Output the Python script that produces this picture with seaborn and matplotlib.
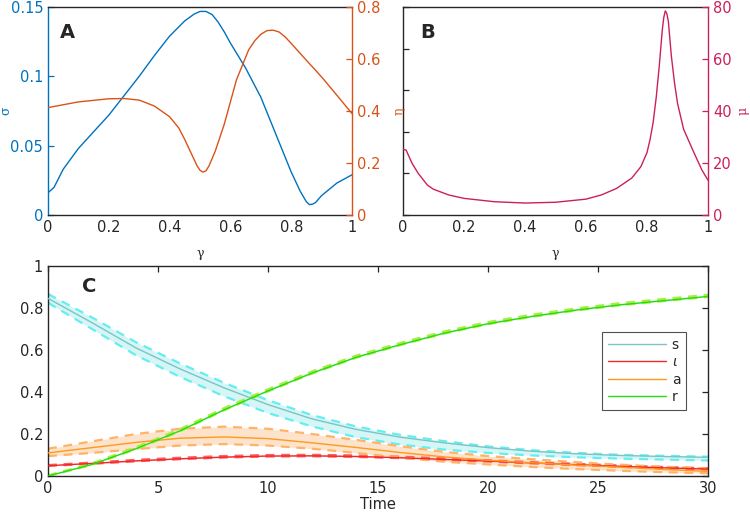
import numpy as np
import pandas as pd
import matplotlib
matplotlib.use("Agg")
import matplotlib.pyplot as plt
import seaborn as sns

# ---------------------------
# DATA
# ---------------------------
gamma_sigma = [0.0, 0.02, 0.05, 0.1, 0.15, 0.2, 0.25, 0.3, 0.35, 0.4, 0.45, 0.48, 0.5, 0.52,
               0.54, 0.56, 0.58, 0.6, 0.65, 0.7, 0.75, 0.8, 0.83, 0.85, 0.86, 0.87, 0.88,
               0.9, 0.95, 1.0]
sigma = [0.016, 0.02, 0.033, 0.048, 0.06, 0.072, 0.086, 0.100, 0.115, 0.129, 0.140, 0.1448,
         0.1468, 0.1468, 0.1445, 0.139, 0.132, 0.124, 0.106, 0.085, 0.058, 0.031, 0.017,
         0.0095, 0.0075, 0.0078, 0.009, 0.014, 0.023, 0.029]

gamma_eta = [0.0, 0.1, 0.2, 0.25, 0.3, 0.35, 0.4, 0.43, 0.45, 0.47, 0.49, 0.5, 0.51, 0.52,
             0.53, 0.55, 0.58, 0.62, 0.66, 0.68, 0.7, 0.72, 0.74, 0.76, 0.78, 0.8, 0.85,
             0.9, 0.95, 1.0]
eta = [0.413, 0.435, 0.447, 0.448, 0.442, 0.419, 0.378, 0.335, 0.29, 0.24, 0.19, 0.172,
       0.165, 0.17, 0.19, 0.245, 0.35, 0.52, 0.635, 0.67, 0.695, 0.709, 0.711, 0.704,
       0.685, 0.66, 0.595, 0.531, 0.461, 0.39]

gamma_mu = [0.0, 0.01, 0.03, 0.05, 0.08, 0.1, 0.15, 0.2, 0.3, 0.4, 0.5, 0.6, 0.65, 0.7,
            0.75, 0.78, 0.8, 0.81, 0.82, 0.83, 0.84, 0.85, 0.855, 0.86, 0.865, 0.87, 0.88,
            0.89, 0.9, 0.92, 0.95, 0.98, 1.0]
mu = [25.3, 25.0, 19.8, 16.0, 11.5, 9.9, 7.7, 6.4, 5.1, 4.6, 4.9, 6.1, 7.7, 10.2,
      14.2, 18.6, 24.0, 29.0, 35.5, 45.0, 57.0, 71.0, 76.0, 78.5, 77.5, 74.5, 61.0,
      51.0, 43.0, 33.0, 25.0, 17.3, 13.4]

time = [0, 2, 4, 6, 8, 10, 12, 14, 16, 18, 20, 22, 24, 26, 28, 30]
s_mid = [0.846, 0.73, 0.61, 0.51, 0.42, 0.34, 0.272, 0.222, 0.185, 0.158, 0.135, 0.118, 0.106, 0.098, 0.093, 0.089]
s_hi = [0.867, 0.755, 0.637, 0.536, 0.444, 0.361, 0.29, 0.236, 0.196, 0.166, 0.141, 0.123, 0.110, 0.101, 0.096, 0.092]
s_lo = [0.825, 0.70, 0.575, 0.472, 0.38, 0.30, 0.236, 0.185, 0.150, 0.126, 0.110, 0.098, 0.089, 0.083, 0.078, 0.074]

i_mid = [0.049, 0.06, 0.072, 0.082, 0.09, 0.095, 0.096, 0.093, 0.087, 0.079, 0.071, 0.062, 0.054, 0.046, 0.039, 0.033]
i_hi = [0.052, 0.064, 0.077, 0.087, 0.095, 0.100, 0.101, 0.098, 0.092, 0.084, 0.075, 0.066, 0.058, 0.050, 0.043, 0.037]
i_lo = [0.048, 0.058, 0.070, 0.080, 0.088, 0.093, 0.094, 0.091, 0.085, 0.077, 0.069, 0.060, 0.052, 0.044, 0.037, 0.031]

a_mid = [0.11, 0.135, 0.16, 0.18, 0.186, 0.178, 0.158, 0.136, 0.112, 0.091, 0.075, 0.063, 0.052, 0.042, 0.031, 0.022]
a_hi = [0.13, 0.165, 0.2, 0.225, 0.235, 0.225, 0.2, 0.172, 0.142, 0.115, 0.095, 0.08, 0.066, 0.054, 0.044, 0.036]
a_lo = [0.095, 0.11, 0.128, 0.145, 0.152, 0.145, 0.13, 0.11, 0.088, 0.068, 0.055, 0.043, 0.033, 0.025, 0.018, 0.013]

r_mid = [0.0, 0.055, 0.13, 0.215, 0.315, 0.405, 0.49, 0.565, 0.625, 0.68, 0.725, 0.76, 0.79, 0.815, 0.835, 0.855]
r_hi = [0.003, 0.06, 0.137, 0.223, 0.323, 0.413, 0.498, 0.573, 0.633, 0.688, 0.733, 0.768, 0.798, 0.823, 0.843, 0.863]
r_lo = [0.0, 0.053, 0.128, 0.213, 0.313, 0.403, 0.488, 0.563, 0.623, 0.678, 0.723, 0.758, 0.788, 0.813, 0.833, 0.853]

# ---------------------------
# STYLE
# ---------------------------
sns.set_theme(style="white")
plt.rcParams["font.family"] = ["DejaVu Sans"]
plt.rcParams["axes.linewidth"] = 1.0

BLUE = "#0072BD"
ORANGE = "#D95319"
CRIMSON = "#CC1F5E"
DARK = "#262626"
TICK = dict(direction="in", length=4, width=0.9, labelsize=10.5)

fig = plt.figure(figsize=(7.5, 5.12), dpi=100)
W, H = 750, 512
axA = fig.add_axes([48 / W, 1 - 215 / H, 304 / W, 208 / H])
axB = fig.add_axes([403 / W, 1 - 215 / H, 305 / W, 208 / H])
axC = fig.add_axes([48 / W, 1 - 476 / H, 660 / W, 210 / H])

greek = dict(fontfamily="DejaVu Serif", fontsize=9)

# ---------------------------
# PANEL A
# ---------------------------
sns.lineplot(x=gamma_sigma, y=sigma, ax=axA, color=BLUE, lw=1.0)
axA.set_xlim(0, 1)
axA.set_ylim(0, 0.15)
axA.set_xticks([0, 0.2, 0.4, 0.6, 0.8, 1])
axA.set_xticklabels(["0", "0.2", "0.4", "0.6", "0.8", "1"])
axA.set_yticks([0, 0.05, 0.1, 0.15])
axA.set_yticklabels(["0", "0.05", "0.1", "0.15"])
axA.tick_params(axis="both", **TICK)
axA.tick_params(axis="y", colors=BLUE)
axA.tick_params(axis="x", colors=DARK)
axA.spines["left"].set_color(BLUE)
axA.spines["right"].set_visible(False)
axA.spines["top"].set_color(DARK)
axA.spines["bottom"].set_color(DARK)
axA.set_ylabel("σ", color=BLUE, **greek)
axA.yaxis.set_label_coords(-0.118, 0.5)
axA.set_xlabel("γ", color=DARK, **greek)
axA.xaxis.set_label_coords(0.5, -0.155)

axA2 = axA.twinx()
sns.lineplot(x=gamma_eta, y=eta, ax=axA2, color=ORANGE, lw=1.0)
axA2.set_ylim(0, 0.8)
axA2.set_yticks([0, 0.2, 0.4, 0.6, 0.8])
axA2.set_yticklabels(["0", "0.2", "0.4", "0.6", "0.8"])
axA2.tick_params(axis="y", colors=ORANGE, **TICK)
axA2.spines["right"].set_color(ORANGE)
for sp in ["left", "top", "bottom"]:
    axA2.spines[sp].set_visible(False)
axA2.set_ylabel("η", color=ORANGE, **greek)
axA2.yaxis.set_label_coords(1.135, 0.5)
axA.text(0.04, 0.875, "A", transform=axA.transAxes, fontsize=14,
         fontweight="bold", va="center", ha="left")

# ---------------------------
# PANEL B
# ---------------------------
axB.set_xlim(0, 1)
axB.set_ylim(0, 1)
axB.set_xticks([0, 0.2, 0.4, 0.6, 0.8, 1])
axB.set_xticklabels(["0", "0.2", "0.4", "0.6", "0.8", "1"])
axB.set_yticks([0, 0.2, 0.4, 0.6, 0.8, 1])
axB.set_yticklabels([])
axB.tick_params(axis="both", colors=DARK, **TICK)
for sp in ["left", "top", "bottom"]:
    axB.spines[sp].set_color(DARK)
axB.spines["right"].set_visible(False)
axB.set_xlabel("γ", color=DARK, **greek)
axB.xaxis.set_label_coords(0.5, -0.155)

axB2 = axB.twinx()
sns.lineplot(x=gamma_mu, y=mu, ax=axB2, color=CRIMSON, lw=1.0)
axB2.set_ylim(0, 80)
axB2.set_yticks([0, 20, 40, 60, 80])
axB2.set_yticklabels(["0", "20", "40", "60", "80"])
axB2.tick_params(axis="y", colors=CRIMSON, **TICK)
axB2.spines["right"].set_color(CRIMSON)
for sp in ["left", "top", "bottom"]:
    axB2.spines[sp].set_visible(False)
axB2.set_ylabel("μ", color=CRIMSON, **greek)
axB2.yaxis.set_label_coords(1.094, 0.5)
axB.text(0.056, 0.875, "B", transform=axB.transAxes, fontsize=14,
         fontweight="bold", va="center", ha="left")

# ---------------------------
# PANEL C
# ---------------------------
series = [
    ("s", s_mid, s_lo, s_hi, "#7CC4C4", "#66EEEE", "#D4F6F6"),
    ("$\\iota$", i_mid, i_lo, i_hi, "#F02828", "#FF6060", "#FCD0D0"),
    ("a", a_mid, a_lo, a_hi, "#FF9A1A", "#FFB366", "#FDE3CC"),
    ("r", r_mid, r_lo, r_hi, "#22DD11", "#A5EE44", "#E2FAD2"),
]
for label, mid, lo, hi, c_line, c_dash, c_fill in series:
    axC.fill_between(time, lo, hi, color=c_fill, lw=0, zorder=1)
    sns.lineplot(x=time, y=hi, ax=axC, color=c_dash, lw=1.6,
                 linestyle=(0, (4, 3)), zorder=2)
    sns.lineplot(x=time, y=lo, ax=axC, color=c_dash, lw=1.6,
                 linestyle=(0, (4, 3)), zorder=2)
    sns.lineplot(x=time, y=mid, ax=axC, color=c_line, lw=1.0, label=label, zorder=3)

axC.set_xlim(0, 30)
axC.set_ylim(0, 1)
axC.set_xticks([0, 5, 10, 15, 20, 25, 30])
axC.set_xticklabels(["0", "5", "10", "15", "20", "25", "30"])
axC.set_yticks([0, 0.2, 0.4, 0.6, 0.8, 1])
axC.set_yticklabels(["0", "0.2", "0.4", "0.6", "0.8", "1"])
axC.tick_params(axis="both", colors=DARK, top=True, right=True, **TICK)
for sp in axC.spines.values():
    sp.set_color(DARK)
axC.set_xlabel("Time", color=DARK, fontsize=10.5, labelpad=1)
axC.set_ylabel("")
axC.text(0.052, 0.9, "C", transform=axC.transAxes, fontsize=14,
         fontweight="bold", va="center", ha="left")

leg = axC.legend(loc="center right", bbox_to_anchor=(0.977, 0.5), frameon=True,
                 fancybox=False, edgecolor=DARK, fontsize=10, handlelength=4.2,
                 borderpad=0.4, labelspacing=0.25, handletextpad=0.4)
leg.get_frame().set_linewidth(0.8)

fig.savefig("out.png", dpi=100)
